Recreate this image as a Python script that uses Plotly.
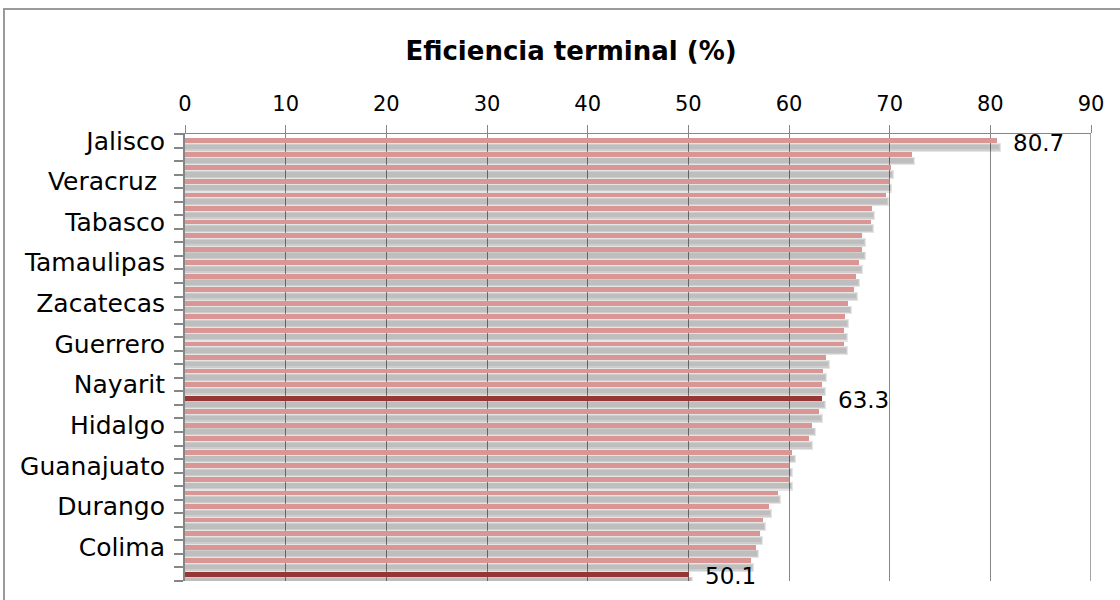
import plotly.graph_objects as go

# ---- data ----
values = [80.7, 72.2, 70.1, 69.9, 69.6, 68.2, 68.1, 67.3, 67.3, 67.0, 66.7,
          66.5, 65.9, 65.6, 65.5, 65.5, 63.7, 63.4, 63.3, 63.3, 63.0, 62.3,
          62.0, 60.3, 60.0, 60.0, 58.9, 58.0, 57.4, 57.1, 56.7, 56.2, 50.1]
shown_labels = ["Jalisco", "Veracruz ", "Tabasco", "Tamaulipas", "Zacatecas",
                "Guerrero", "Nayarit", "Hidalgo", "Guanajuato", "Durango", "Colima"]
label_every = 3
highlighted = [19, 32]          # dark bars
annotated = [0, 19, 32]         # bars with value labels
x_ticks = [0, 10, 20, 30, 40, 50, 60, 70, 80, 90]

PINK = "#D99694"
DARK = "#953735"
GRID = "#868686"
FONT = "DejaVu Sans"

n = len(values)
pos = list(range(n))
colors = [DARK if i in highlighted else PINK for i in pos]

fig = go.Figure()

# soft drop shadow under each bar (layers of translucent grey)
for extra, off, wid, alpha in [(0.35, 0.175, 0.65, 0.10),
                               (0.25, 0.24, 0.50, 0.10),
                               (0.15, 0.30, 0.34, 0.07)]:
    fig.add_trace(go.Bar(
        x=[v + extra for v in values], y=pos, orientation="h",
        offset=off, width=wid,
        marker=dict(color=f"rgba(0,0,0,{alpha})", line=dict(width=0)),
        hoverinfo="skip", showlegend=False))

fig.add_trace(go.Bar(
    x=values, y=pos, orientation="h", offset=-0.175, width=0.35,
    marker=dict(color=colors, line=dict(width=0)), showlegend=False))

for i in annotated:
    fig.add_annotation(x=values[i], y=i, xref="x", yref="y",
                       text=f"{values[i]:.1f}", showarrow=False,
                       xanchor="left", yanchor="middle", xshift=14, yshift=-2,
                       font=dict(family=FONT, size=23, color="black"))

tickvals = pos[::label_every][:len(shown_labels)]

fig.update_layout(
    width=1120, height=600,
    margin=dict(l=185, r=29, t=134, b=19),
    paper_bgcolor="white", plot_bgcolor="white",
    barmode="overlay", bargap=0,
    title=dict(text="<b>Eficiencia terminal (%)</b>", x=571 / 1120, xref="container",
               xanchor="center", y=1 - 51 / 600, yref="container", yanchor="middle",
               font=dict(family=FONT, size=26, color="black")),
    xaxis=dict(side="top", range=[0, 90], tickvals=x_ticks,
               showgrid=True, gridcolor=GRID, gridwidth=1, zeroline=False,
               showline=True, linecolor=GRID, linewidth=1,
               ticks="outside", ticklen=8, tickcolor=GRID, tickwidth=1,
               ticklabelstandoff=6,
               tickfont=dict(family=FONT, size=21, color="black")),
    yaxis=dict(range=[n - 0.5, -0.5], tickmode="array", tickvals=tickvals,
               ticktext=shown_labels, showgrid=False, zeroline=False,
               showline=True, linecolor=GRID, linewidth=2,
               ticks="outside", ticklen=9, tickcolor="rgba(0,0,0,0)",
               ticklabelstandoff=4,
               minor=dict(tickvals=[i - 0.5 for i in range(n + 1)],
                          ticks="outside", ticklen=9, tickcolor=GRID,
                          tickwidth=1.5, showgrid=False),
               tickfont=dict(family=FONT, size=25, color="black")),
    shapes=[dict(type="rect", xref="paper", yref="paper",
                 x0=(4 - 185) / 906, x1=1.3, y0=-0.3, y1=(581 - 9) / 447,
                 line=dict(color="#9a9a9a", width=2), fillcolor="rgba(0,0,0,0)",
                 layer="below"),
            dict(type="line", xref="x", yref="paper", x0=90, x1=90, y0=0, y1=1,
                 line=dict(color=GRID, width=1.5), layer="below")],
)

fig.write_html("out.html",
               config={"displayModeBar": False},
               post_script="document.body.style.margin='0px';"
                           "document.body.style.overflow='hidden';")
